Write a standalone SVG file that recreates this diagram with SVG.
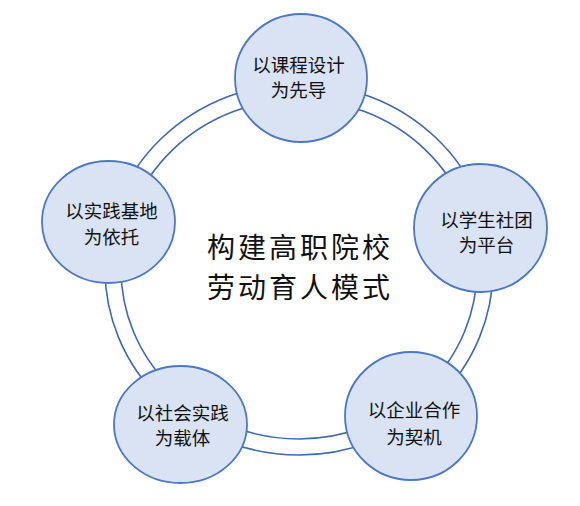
<svg xmlns="http://www.w3.org/2000/svg" width="580" height="506" viewBox="0 0 580 506">
<style>
.ring{fill:none;stroke:#3F67B2;stroke-width:1.6}
.node{fill:#DAE3F3;stroke:#4A78C6;stroke-width:1.8}
.lbl{font-family:"Noto Sans CJK SC","Noto Sans CJK JP",sans-serif;font-size:18.5px;fill:#111;text-anchor:middle}
.title{font-family:"Noto Sans CJK SC","Noto Sans CJK JP",sans-serif;font-size:28px;letter-spacing:3px;fill:#111;text-anchor:middle}
</style>
<rect width="580" height="506" fill="#fff"/>
<g id="connectors">
<ellipse class="ring" cx="299" cy="269.3" rx="178" ry="169.7"/>
<ellipse class="ring" cx="299" cy="269.3" rx="194" ry="185.7"/>
</g>
<g id="center">
<text class="title" x="300" y="258">构建高职院校</text>
<text class="title" x="300" y="298">劳动育人模式</text>
</g>
<g id="node-top">
<ellipse class="node" cx="301" cy="78" rx="66" ry="64"/>
<text class="lbl" x="298.5" y="72">以课程设计</text>
<text class="lbl" x="298.5" y="97">为先导</text>
</g>
<g id="node-right">
<ellipse class="node" cx="480.5" cy="228" rx="66.5" ry="64"/>
<text class="lbl" x="486.5" y="227">以学生社团</text>
<text class="lbl" x="486.5" y="252">为平台</text>
</g>
<g id="node-bottom-right">
<ellipse class="node" cx="411" cy="416" rx="66" ry="64"/>
<text class="lbl" x="414" y="417">以企业合作</text>
<text class="lbl" x="414" y="444">为契机</text>
</g>
<g id="node-bottom-left">
<ellipse class="node" cx="180.5" cy="424.5" rx="66.5" ry="58.5"/>
<text class="lbl" x="182.5" y="420">以社会实践</text>
<text class="lbl" x="182.5" y="445">为载体</text>
</g>
<g id="node-left">
<ellipse class="node" cx="108.5" cy="222" rx="66.5" ry="61"/>
<text class="lbl" x="111.5" y="218">以实践基地</text>
<text class="lbl" x="111.5" y="244">为依托</text>
</g>
</svg>
